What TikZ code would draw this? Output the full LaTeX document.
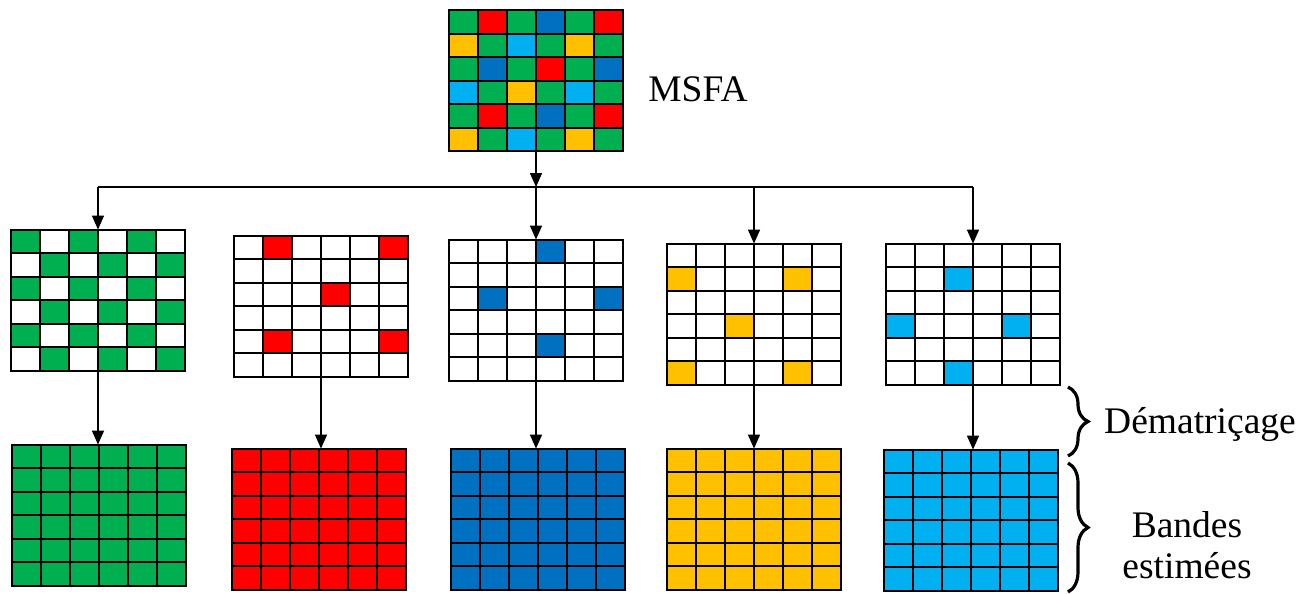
\documentclass[tikz,border=0pt]{standalone}
\usepackage{fontspec}
\setmainfont{Liberation Serif}
\usepackage{tikz}
\usetikzlibrary{arrows.meta,calc,decorations.pathreplacing}

\definecolor{bandg}{HTML}{00B050}
\definecolor{bandr}{HTML}{FF0000}
\definecolor{bandb}{HTML}{0070C0}
\definecolor{bandy}{HTML}{FFC000}
\definecolor{bandc}{HTML}{00B0F0}

% filter layout, row by row
\newcommand{\msfapattern}{{g,r,g,b,g,r},{y,g,c,g,y,g},{g,b,g,r,g,b},{c,g,y,g,c,g},{g,r,g,b,g,r},{y,g,c,g,y,g}}

\tikzset{
  gridbox/.style={minimum width=87pt,minimum height=70.5pt,inner sep=0pt},
  cell/.style={draw=black,line width=1pt},
  flow/.style={-{Triangle[length=7pt,width=6pt]},line width=0.75pt},
  bracket/.style={decorate,decoration={brace,amplitude=10pt},line width=1.6pt},
  txt/.style={font=\fontsize{18.75}{20.5}\selectfont,inner sep=0pt}
}

\begin{document}
\begin{tikzpicture}[x=0.5pt,y=-0.5pt]
\useasboundingbox (0,0) rectangle (1313,594);
% grids
\node[gridbox] (msfa) at (536,81) {};
\node[gridbox] (sg) at (98,300.5) {};
\node[gridbox] (sr) at (321,306.5) {};
\node[gridbox] (sb) at (536,310.5) {};
\node[gridbox] (sy) at (754,314.5) {};
\node[gridbox] (sc) at (973,314.5) {};
\node[gridbox] (fg) at (99,515.5) {};
\node[gridbox] (fr) at (319,519.5) {};
\node[gridbox] (fb) at (538,519.5) {};
\node[gridbox] (fy) at (754,519.5) {};
\node[gridbox] (fc) at (971,520.5) {};

% MSFA
\foreach \row [count=\r] in \msfapattern
  \foreach \clr [count=\c] in \row
    \draw[cell,fill=band\clr] ($(msfa.north west)+(\c*29-29,\r*23.5-23.5)$) rectangle +(29,23.5);

% one band kept, the rest white
\foreach \band/\grd in {g/sg,r/sr,b/sb,y/sy,c/sc}
  \foreach \row [count=\r] in \msfapattern
    \foreach \clr [count=\c] in \row {
      \edef\here{\clr}\edef\want{\band}
      \ifx\here\want\def\cellfill{band\clr}\else\def\cellfill{white}\fi
      \draw[cell,fill=\cellfill] ($(\grd.north west)+(\c*29-29,\r*23.5-23.5)$) rectangle +(29,23.5);
    }

% full bands
\foreach \band/\grd in {g/fg,r/fr,b/fb,y/fy,c/fc}
  \foreach \r in {1,...,6}
    \foreach \c in {1,...,6}
      \draw[cell,fill=band\band] ($(\grd.north west)+(\c*29-29,\r*23.5-23.5)$) rectangle +(29,23.5);

% arrows
\coordinate (split) at (536,187);
\draw[flow] (msfa.south) -- (split);
\draw[line width=0.75pt] (sg.north |- split) -- (sc.north |- split);
\foreach \grd in {sg,sb,sy,sc}
  \draw[flow] (\grd.north |- split) -- (\grd.north);
\foreach \band in {g,r,b,y,c}
  \draw[flow] (s\band.south) -- (s\band.south |- f\band.north);

% labels
\node[txt,anchor=base] (msfatxt) at (698,101) {MSFA};
\draw[bracket] (1068,387) -- (1068,456);
\draw[bracket] (1068,463) -- (1068,592);
\node[txt,anchor=base] (demtxt) at (1200,433) {Dématriçage};
\node[txt,anchor=base,align=center] (esttxt) at (1187,578) {Bandes\\estimées};
\end{tikzpicture}
\end{document}
